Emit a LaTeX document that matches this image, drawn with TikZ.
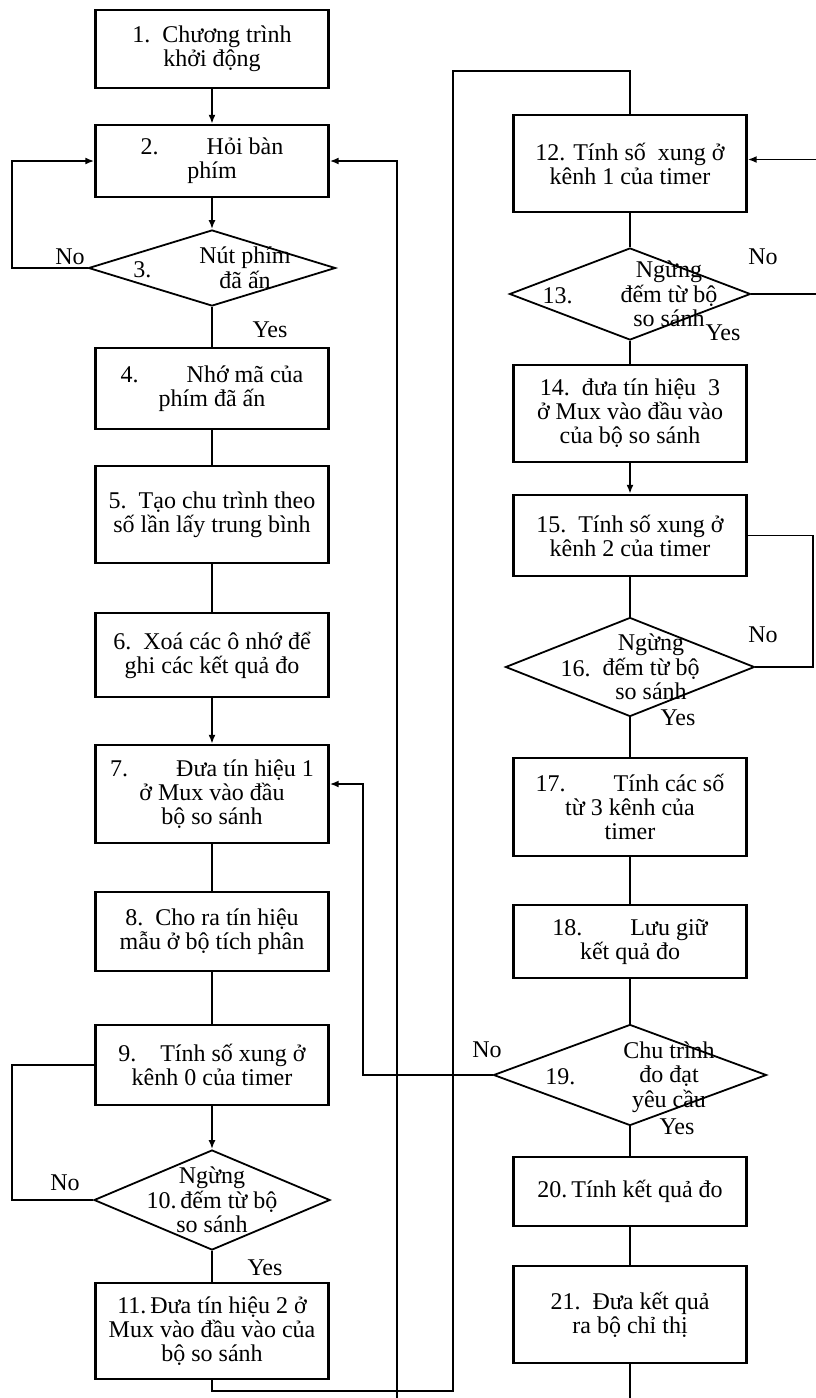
\documentclass[tikz,border=0pt]{standalone}
\usepackage{fontspec}
\setmainfont{Liberation Serif}
\usetikzlibrary{shapes.geometric,arrows.meta}
\newcommand{\chartfont}{\fontsize{12}{12}\selectfont}
\newcommand{\dtxt}[1]{\makebox[0pt]{\smash{\raisebox{-4.5pt}{\begin{tabular}{@{}c@{}}#1\end{tabular}}}}}
\tikzset{
  box/.style  ={rectangle,draw,line width=1.2pt,minimum width=116.5pt,
                 align=center,inner sep=2pt,font=\chartfont},
  dec/.style  ={diamond,draw,line width=0.9pt,inner sep=0pt,
                 font=\chartfont},
  flow/.style ={line width=0.9pt},
  arr/.style  ={flow,-{Latex[length=4.5pt,width=3.5pt]}},
  lbl/.style  ={font=\chartfont,inner sep=1pt},
}

\begin{document}
\begin{tikzpicture}[x=0.5pt,y=-0.5pt]
  \path[use as bounding box,fill=white] (0,0) rectangle (815,1398);
  % left column
  \node[box,minimum height=39pt]   (b1)  at (212,49)   {1.\ \ Chương trình\\khởi động};
  \node[box,minimum height=36pt]   (b2)  at (212,161)  {2.\qquad Hỏi bàn\\phím};
  \node[dec,minimum width=123.5pt,minimum height=38pt]
                                   (d3)  at (212,268)
        {\dtxt{3.\qquad\begin{tabular}{@{}c@{}}Nút phím\\đã ấn\end{tabular}}};
  \node[box,minimum height=40.5pt] (b4)  at (212,388.5) {4.\qquad Nhớ mã của\\phím đã ấn};
  \node[box,minimum height=48.5pt] (b5)  at (212,514.5) {5.\ \ Tạo chu trình theo\\số lần lấy trung bình};
  \node[box,minimum height=42pt]   (b6)  at (212,655)  {6.\ \ Xoá các ô nhớ để\\ghi các kết quả đo};
  \node[box,minimum height=49pt]   (b7)  at (212,794)  {7.\qquad Đưa tín hiệu 1\\ở Mux vào đầu\\bộ so sánh};
  \node[box,minimum height=39.5pt] (b8)  at (212,931.5) {8.\ \ Cho ra tín hiệu\\mẫu ở bộ tích phân};
  \node[box,minimum height=40pt]   (b9)  at (212,1065) {9.\quad Tính số xung ở\\kênh 0 của timer};
  \node[dec,minimum width=118pt,minimum height=50pt]
                                   (d10) at (212,1200)
        {\dtxt{Ngừng\\10.\,đếm từ bộ\\so sánh}};
  \node[box,minimum height=48pt]   (b11) at (212,1331) {11.\,Đưa tín hiệu 2 ở\\Mux vào đầu vào của\\bộ so sánh};
  % right column
  \node[box,minimum height=48.5pt] (b12) at (630,163.5) {12. Tính số\ \ xung ở\\kênh 1 của timer};
  \node[dec,minimum width=120.5pt,minimum height=46pt]
                                   (d13) at (630,294)
        {\dtxt{13.\qquad\begin{tabular}{@{}c@{}}Ngừng\\đếm từ bộ\\so sánh\end{tabular}}};
  \node[box,minimum height=48.5pt] (b14) at (630,413.5) {14.\ \ đưa tín hiệu\ \ 3\\ở Mux vào đầu vào\\của bộ so sánh};
  \node[box,minimum height=40.5pt] (b15) at (630,535.5) {15.\ \ Tính số xung ở\\kênh 2 của timer};
  \node[dec,minimum width=124.5pt,minimum height=49.5pt]
                                   (d16) at (630,667)
        {\dtxt{16.\ \ \begin{tabular}{@{}c@{}}Ngừng\\đếm từ bộ\\so sánh\end{tabular}}};
  \node[box,minimum height=49pt]   (b17) at (630,807)  {17.\qquad Tính các số\\từ 3 kênh của\\timer};
  \node[box,minimum height=36.5pt] (b18) at (630,941.5) {18.\qquad Lưu giữ\\kết quả đo};
  \node[dec,minimum width=136.5pt,minimum height=50.5pt]
                                   (d19) at (630,1075)
        {\dtxt{19.\qquad\begin{tabular}{@{}c@{}}Chu trình\\đo đạt\\yêu cầu\end{tabular}}};
  \node[box,minimum height=34.5pt] (b20) at (630,1191.5) {20.\,Tính kết quả đo};
  \node[box,minimum height=48.5pt] (b21) at (630,1314.5) {21.\ \ Đưa kết quả\\ra bộ chỉ thị};
  % yes / no labels
  \node[lbl] (no3)   at (70,257)   {No};
  \node[lbl] (yes3)  at (270,330)  {Yes};
  \node[lbl] (no10)  at (65,1183)  {No};
  \node[lbl] (yes10) at (265,1268) {Yes};
  \node[lbl] (no13)  at (763,257)  {No};
  \node[lbl] (yes13) at (723,333)  {Yes};
  \node[lbl] (no16)  at (763,635)  {No};
  \node[lbl] (yes16) at (678,718)  {Yes};
  \node[lbl] (no19)  at (487,1050) {No};
  \node[lbl] (yes19) at (677,1127) {Yes};
  % main flow, left
  \draw[arr]  (b1)  -- (b2);
  \draw[arr]  (b2)  -- (d3);
  \draw[flow] (d3)  -- (b4);
  \draw[flow] (b4)  -- (b5);
  \draw[flow] (b5)  -- (b6);
  \draw[arr]  (b6)  -- (b7);
  \draw[flow] (b7)  -- (b8);
  \draw[flow] (b8)  -- (b9);
  \draw[arr]  (b9)  -- (d10);
  \draw[flow] (d10) -- (b11);
  % main flow, right
  \draw[flow] (b12) -- (d13);
  \draw[flow] (d13) -- (b14);
  \draw[arr]  (b14) -- (b15);
  \draw[flow] (b15) -- (d16);
  \draw[flow] (d16) -- (b17);
  \draw[flow] (b17) -- (b18);
  \draw[flow] (b18) -- (d19);
  \draw[flow] (d19) -- (b20);
  \draw[flow] (b20) -- (b21);
  % no loops
  \draw[arr]  (d3.west)  -- ++(-75.5,0) |- (b2.west);
  \draw[flow] (d10.west) -- ++(-81,0)   |- (b9.west);
  \draw[arr]  (d13.east) -- ++(90,0)    |- ([yshift=2pt]b12.east);
  \draw[flow] (d16.east) -- ++(57.5,0)  |- (b15.east);
  \draw[arr]  (d19.west) -- ++(-130,0)  |- ([yshift=5pt]b7.east);
  % 11 -> 12 and 21 -> 2
  \coordinate (j1) at (453,1391);
  \coordinate (j2) at (453,71);
  \draw[flow] (b11.south) |- (j1) -- (j2) -| (b12.north);
  \coordinate (k1) at (397,1420);
  \draw[arr]  (b21.south) |- (k1) |- (b2.east);
\end{tikzpicture}
\end{document}
